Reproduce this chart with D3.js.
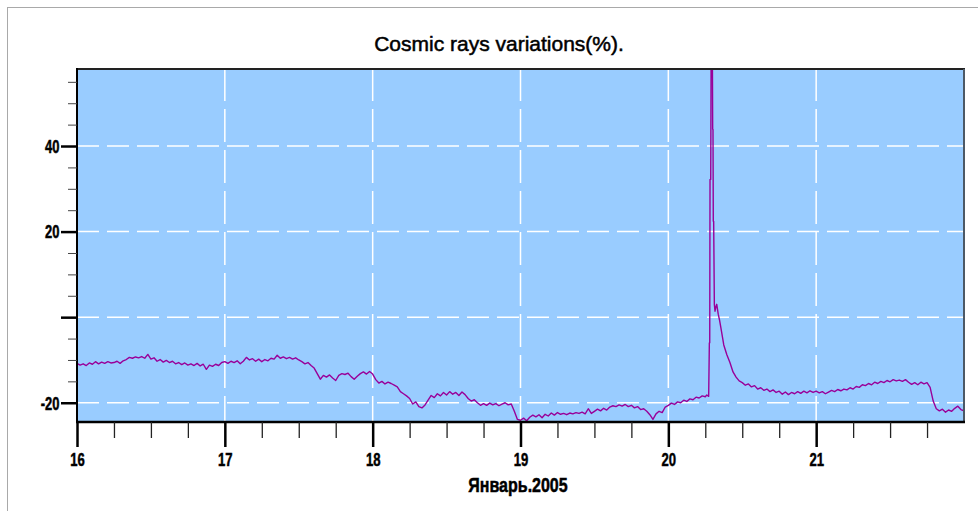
<!DOCTYPE html>
<html><head><meta charset="utf-8">
<script src="https://cdn.jsdelivr.net/npm/d3@7"></script>
<style>
body{margin:0;background:#fff;}
svg{display:block;}
.nar{font-family:"Liberation Sans",Arial,sans-serif;font-weight:bold;fill:#000;stroke:#000;stroke-width:0.5px;}
</style></head><body>
<svg id="c" width="978" height="511"></svg>
<script>
const title = "Cosmic rays variations(%).";
const xTitle = "Январь.2005";
const xMajorTicks = [16, 17, 18, 19, 20, 21];
const xTickLabels = ["16", "17", "18", "19", "20", "21"];
const xMinorTicks = [16.25,16.5,16.75,17.25,17.5,17.75,18.25,18.5,18.75,19.25,19.5,19.75,20.25,20.5,20.75,21.25,21.5,21.75];
const yMajorTicks = [-20, 0, 20, 40];
const yTickLabels = ["-20", "", "20", "40"];
const yMinorTicks = [-15,-10,-5,5,10,15,25,30,35,45,50,55];

// values every 30 minutes from 00:00 of each day (percent)
const day16 = [-10.8,-11.2,-10.9,-11.3,-10.7,-11.0,-10.4,-10.9,-10.5,-10.8,
  -10.4,-10.7,-10.6,-10.3,-10.8,-10.2,-9.9,-9.4,-9.6,-9.3,
  -9.5,-9.2,-9.6,-8.7,-9.8,-9.5,-10.3,-9.9,-10.5,-10.1,
  -10.6,-10.3,-10.9,-10.6,-11.1,-10.7,-11.2,-10.9,-11.3,-10.8,
  -11.4,-11.0,-12.2,-11.2,-11.5,-11.0,-11.3,-10.6];
const day17 = [-10.4,-10.8,-10.3,-10.6,-10.2,-10.9,-10.3,-9.4,-10.0,-9.7,
  -10.3,-9.8,-10.4,-9.9,-10.2,-9.6,-9.8,-8.9,-9.6,-9.3,
  -9.7,-9.4,-9.8,-9.5,-10.0,-10.4,-10.9,-10.6,-11.3,-11.9,
  -13.2,-14.5,-13.6,-14.0,-13.5,-14.2,-14.8,-13.6,-13.2,-13.4,
  -13.1,-13.9,-14.5,-13.8,-13.2,-12.8,-13.3,-12.7];
const day18 = [-13.3,-14.6,-15.4,-15.0,-15.6,-15.2,-15.5,-15.9,-16.3,-17.4,
  -17.9,-18.4,-19.0,-20.3,-19.8,-20.9,-21.2,-20.5,-19.4,-18.3,
  -18.8,-17.9,-18.4,-17.6,-18.2,-17.4,-18.0,-17.6,-18.3,-17.5,
  -18.1,-19.0,-19.6,-19.3,-20.0,-20.6,-20.2,-20.6,-20.1,-20.5,
  -20.2,-20.7,-20.3,-20.0,-20.5,-20.3,-22.0,-23.9];
const day19 = [-24.1,-23.6,-24.2,-23.4,-22.9,-23.3,-22.8,-23.5,-22.7,-23.1,
  -22.4,-22.9,-22.3,-22.7,-22.5,-22.8,-22.4,-22.6,-22.3,-22.5,
  -22.2,-22.6,-21.4,-22.5,-22.0,-21.5,-21.9,-21.3,-21.7,-21.0,
  -20.7,-20.9,-20.5,-20.8,-20.4,-20.9,-20.6,-21.2,-20.9,-21.6,
  -21.4,-22.0,-22.8,-23.9,-22.6,-22.0,-22.3,-21.0];
// 20 Jan: 00:00 - 06:00
const day20a = [-20.6,-20.1,-20.4,-19.8,-20.0,-19.4,-19.7,-19.1,-19.3,-18.7,-18.9,-18.4,-18.6];
// ground level enhancement, hours of 20 Jan
const spikeHours = [6.25,6.55,6.66,6.72,6.77,6.88,6.94,7.16,7.2,7.25,7.3,7.36,7.47,7.58,7.72,7.86,8.1,8.3];
const spikeValues = [-18.2,-18.5,-6.0,-6.0,32.2,32.2,58,58,43.9,43.9,22.4,22.4,3.0,1.4,2.4,3.0,0.7,-0.6];
// 20 Jan: 08:30 - 23:30
const day20b = [-2.2,-6.5,-8.8,-10.6,-12.8,-14.0,-14.9,-15.3,-15.9,-15.6,
  -16.3,-16.0,-16.8,-16.5,-17.1,-16.8,-17.4,-17.0,-17.6,-17.3,
  -18.0,-17.5,-18.1,-17.6,-17.9,-17.4,-17.8,-17.3,-17.7,-17.2,-17.6];
// 21 Jan: 00:00 - 24:00
const day21 = [-17.3,-17.7,-17.4,-17.9,-17.5,-17.1,-17.4,-16.9,-17.2,-16.8,
  -17.0,-16.5,-16.8,-16.2,-16.4,-15.8,-16.0,-15.5,-15.8,-15.2,
  -15.5,-15.0,-15.3,-14.8,-15.1,-14.6,-14.9,-14.7,-15.0,-14.6,
  -15.2,-15.7,-15.3,-15.8,-15.2,-15.6,-15.3,-16.4,-19.6,-21.4,
  -21.9,-21.5,-22.2,-21.7,-22.0,-21.3,-20.8,-21.6,-21.9];

const points = [];
function addHalfHourly(day, startHour, vals) {
  vals.forEach((v, i) => points.push({t: day + (startHour + i * 0.5) / 24, v}));
}
addHalfHourly(16, 0, day16);
addHalfHourly(17, 0, day17);
addHalfHourly(18, 0, day18);
addHalfHourly(19, 0, day19);
addHalfHourly(20, 0, day20a);
spikeHours.forEach((h, i) => points.push({t: 20 + h / 24, v: spikeValues[i]}));
addHalfHourly(20, 8.5, day20b);
addHalfHourly(21, 0, day21);

const L = 77, R = 964, T = 69, B = 422;
const svg = d3.select("#c");
const x = d3.scaleLinear().domain([16, 22]).range([L, R]);
const y = d3.scaleLinear().domain([-24.5, 58]).range([B, T]);

// outer frame
svg.append("rect").attr("x", 7.5).attr("y", 7.5).attr("width", 1000).attr("height", 600)
  .attr("fill", "none").attr("stroke", "#a9a9a9").attr("stroke-width", 1);

// title
svg.append("text").attr("x", 499).attr("y", 51).attr("text-anchor", "middle")
  .attr("font-family", "'Liberation Sans', Arial, sans-serif").attr("font-size", 21)
  .attr("fill", "#000").attr("stroke", "#000").attr("stroke-width", 0.5).text(title);

// plot background
svg.append("rect").attr("x", L).attr("y", T).attr("width", R - L).attr("height", B - T).attr("fill", "#99ccff");

// grid
const grid = svg.append("g");
grid.selectAll("line.h").data(yMajorTicks).join("line").attr("class", "h")
  .attr("x1", L).attr("x2", R).attr("y1", d => y(d)).attr("y2", d => y(d))
  .attr("stroke", "#fff").attr("stroke-width", 1.5).attr("stroke-dasharray", "22,8");
grid.selectAll("line.v").data(xMajorTicks.slice(1)).join("line").attr("class", "v")
  .attr("y1", T - 1).attr("y2", B).attr("x1", d => x(d)).attr("x2", d => x(d))
  .attr("stroke", "#fff").attr("stroke-width", 1.5).attr("stroke-dasharray", "33,8");

// data line
svg.append("clipPath").attr("id", "clip").append("rect")
  .attr("x", L).attr("y", T).attr("width", R - L).attr("height", B - T);
svg.append("path").datum(points).attr("clip-path", "url(#clip)")
  .attr("fill", "none").attr("stroke", "#990099").attr("stroke-width", 1.4)
  .attr("stroke-linejoin", "round")
  .attr("d", d3.line().x(d => x(d.t)).y(d => y(d.v)));

// frame of plot
svg.append("line").attr("x1", L - 1).attr("x2", R + 1).attr("y1", T).attr("y2", T).attr("stroke", "#222").attr("stroke-width", 2);
svg.append("line").attr("x1", R).attr("x2", R).attr("y1", T).attr("y2", B).attr("stroke", "#4d5966").attr("stroke-width", 2);
svg.append("line").attr("x1", L).attr("x2", L).attr("y1", T - 1).attr("y2", B + 1).attr("stroke", "#000").attr("stroke-width", 2);
svg.append("line").attr("x1", L - 1).attr("x2", R + 1).attr("y1", B).attr("y2", B).attr("stroke", "#000").attr("stroke-width", 2.5);

// y axis
const yMinor = svg.append("g").attr("transform", `translate(${L},0)`)
  .call(d3.axisLeft(y).tickValues(yMinorTicks).tickSize(9).tickFormat(""));
yMinor.select(".domain").remove();
yMinor.selectAll(".tick line").attr("stroke", "#444").attr("stroke-width", 1);
const yMajor = svg.append("g").attr("transform", `translate(${L},0)`)
  .call(d3.axisLeft(y).tickValues(yMajorTicks).tickSize(16).tickPadding(2)
    .tickFormat((d, i) => yTickLabels[i]));
yMajor.select(".domain").remove();
yMajor.selectAll(".tick line").attr("stroke", "#000").attr("stroke-width", 2.5);
yMajor.selectAll(".tick text").attr("class", "nar").attr("font-size", 17.5).attr("font-family", null)
  .attr("fill", null).attr("dy", "0.36em").attr("x", -17.5 / 0.74).attr("transform", "scale(0.74,1)");

// x axis
const xMinor = svg.append("g").attr("transform", `translate(0,${B})`)
  .call(d3.axisBottom(x).tickValues(xMinorTicks).tickSize(16).tickFormat(""));
xMinor.select(".domain").remove();
xMinor.selectAll(".tick line").attr("stroke", "#222").attr("stroke-width", 1.3);
const xMajor = svg.append("g").attr("transform", `translate(0,${B})`)
  .call(d3.axisBottom(x).tickValues(xMajorTicks).tickSize(25).tickPadding(6)
    .tickFormat((d, i) => xTickLabels[i]));
xMajor.select(".domain").remove();
xMajor.selectAll(".tick line").attr("stroke", "#000").attr("stroke-width", 2.5);
xMajor.selectAll(".tick text").attr("class", "nar").attr("font-size", 19).attr("font-family", null)
  .attr("fill", null).attr("transform", "scale(0.69,1)");

// x title
svg.append("text").attr("class", "nar")
  .attr("transform", "translate(518,492) scale(0.8,1)")
  .attr("text-anchor", "middle").attr("font-size", 20).text(xTitle);
</script>
</body></html>
